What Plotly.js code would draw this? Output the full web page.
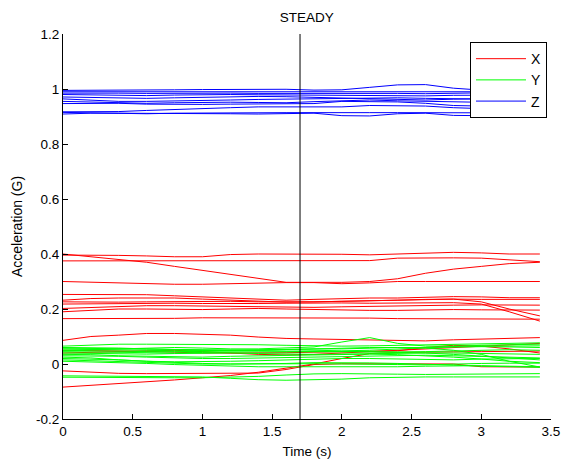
<!DOCTYPE html>
<html>
<head>
<meta charset="utf-8">
<script src="https://cdn.plot.ly/plotly-3.0.1.min.js"></script>
<style>html,body{margin:0;padding:0;background:#fff;}#chart{width:562px;height:461px;}</style>
</head>
<body>
<div id="chart"></div>
<script>
const time = [0,0.2,0.4,0.6,0.8,1.0,1.2,1.4,1.6,1.8,2.0,2.2,2.4,2.6,2.8,3.0,3.2,3.42];

const accX = [
  [0.40,0.39,0.38,0.37,0.355,0.34,0.325,0.31,0.297,0.297,0.297,0.30,0.31,0.33,0.345,0.355,0.365,0.37],
  [0.396,0.396,0.395,0.393,0.39,0.39,0.398,0.40,0.40,0.40,0.399,0.397,0.40,0.405,0.406,0.404,0.40,0.40],
  [0.375,0.375,0.375,0.375,0.375,0.375,0.376,0.376,0.375,0.375,0.375,0.376,0.385,0.386,0.386,0.385,0.378,0.372],
  [0.30,0.297,0.295,0.293,0.29,0.29,0.292,0.295,0.296,0.296,0.292,0.295,0.30,0.30,0.30,0.30,0.30,0.30],
  [0.253,0.253,0.253,0.252,0.248,0.244,0.24,0.235,0.232,0.235,0.238,0.24,0.24,0.242,0.245,0.244,0.241,0.241],
  [0.232,0.238,0.24,0.24,0.24,0.236,0.232,0.228,0.225,0.226,0.228,0.23,0.232,0.236,0.236,0.235,0.235,0.235],
  [0.226,0.225,0.225,0.226,0.227,0.228,0.228,0.226,0.225,0.226,0.228,0.229,0.232,0.235,0.236,0.226,0.2,0.175],
  [0.218,0.219,0.22,0.22,0.221,0.22,0.219,0.22,0.221,0.222,0.222,0.221,0.222,0.224,0.223,0.218,0.19,0.156],
  [0.202,0.206,0.21,0.212,0.212,0.211,0.21,0.208,0.206,0.206,0.208,0.21,0.212,0.214,0.214,0.215,0.214,0.214],
  [0.19,0.195,0.2,0.2,0.199,0.198,0.2,0.202,0.2,0.198,0.196,0.195,0.195,0.197,0.198,0.197,0.196,0.196],
  [0.165,0.165,0.164,0.164,0.166,0.168,0.168,0.168,0.168,0.168,0.168,0.167,0.165,0.165,0.164,0.164,0.163,0.163],
  [0.086,0.10,0.105,0.111,0.111,0.108,0.105,0.098,0.093,0.091,0.089,0.088,0.086,0.084,0.088,0.09,0.093,0.096],
  [-0.084,-0.078,-0.072,-0.066,-0.058,-0.05,-0.042,-0.03,-0.015,0.0,0.02,0.038,0.042,0.044,0.044,0.045,0.045,0.047],
  [-0.025,-0.03,-0.034,-0.035,-0.035,-0.035,-0.035,-0.033,-0.02,-0.002,0.001,0.001,0.001,0.0,0.0,-0.01,-0.011,-0.011],
  [0.05,0.049,0.048,0.046,0.043,0.04,0.04,0.04,0.041,0.043,0.045,0.047,0.048,0.06,0.068,0.065,0.055,0.04],
  [0.04,0.042,0.045,0.047,0.05,0.045,0.04,0.035,0.033,0.035,0.04,0.045,0.05,0.055,0.06,0.065,0.07,0.075]
];

const accY = [
  [0.065,0.068,0.072,0.072,0.072,0.072,0.072,0.07,0.068,0.066,0.065,0.066,0.068,0.07,0.072,0.074,0.075,0.077],
  [0.05,0.052,0.055,0.058,0.06,0.058,0.055,0.055,0.058,0.062,0.08,0.096,0.075,0.065,0.065,0.064,0.065,0.066],
  [0.06,0.06,0.058,0.055,0.052,0.05,0.05,0.052,0.055,0.055,0.055,0.058,0.06,0.06,0.062,0.063,0.062,0.06],
  [0.055,0.054,0.052,0.05,0.048,0.048,0.05,0.05,0.052,0.05,0.048,0.05,0.055,0.06,0.065,0.068,0.07,0.072],
  [0.05,0.048,0.045,0.045,0.045,0.046,0.048,0.048,0.046,0.045,0.045,0.045,0.044,0.045,0.048,0.05,0.052,0.05],
  [0.045,0.044,0.042,0.04,0.04,0.042,0.044,0.044,0.044,0.045,0.045,0.044,0.042,0.04,0.035,0.028,0.022,0.015],
  [0.04,0.038,0.036,0.036,0.038,0.04,0.04,0.038,0.036,0.035,0.036,0.038,0.04,0.04,0.04,0.038,0.036,0.035],
  [0.035,0.034,0.03,0.028,0.025,0.025,0.028,0.03,0.032,0.033,0.035,0.036,0.034,0.03,0.025,0.018,0.01,0.005],
  [0.03,0.03,0.028,0.025,0.022,0.02,0.02,0.022,0.024,0.025,0.026,0.028,0.03,0.032,0.03,0.028,0.025,0.022],
  [0.025,0.022,0.015,0.01,0.008,0.008,0.01,0.012,0.015,0.018,0.02,0.02,0.018,0.015,0.015,0.018,0.02,0.02],
  [0.02,0.018,0.015,0.01,0.005,0.002,0.0,0.0,0.002,0.005,0.005,0.004,0.002,0.0,-0.004,-0.008,-0.01,-0.012],
  [0.015,0.012,0.008,0.004,0.001,0.0,0.0,0.001,0.001,0.001,0.0,0.0,-0.002,-0.003,0.0,0.002,0.003,0.003],
  [0.01,0.008,0.005,0.002,-0.002,-0.005,-0.008,-0.01,-0.01,-0.01,-0.012,-0.012,-0.01,-0.008,-0.006,-0.006,-0.008,-0.01],
  [-0.043,-0.044,-0.045,-0.046,-0.047,-0.047,-0.052,-0.057,-0.059,-0.058,-0.055,-0.05,-0.048,-0.047,-0.047,-0.047,-0.047,-0.047],
  [-0.048,-0.049,-0.05,-0.05,-0.05,-0.05,-0.048,-0.045,-0.04,-0.036,-0.035,-0.035,-0.037,-0.038,-0.037,-0.036,-0.035,-0.035],
  [0.058,0.056,0.055,0.054,0.053,0.052,0.05,0.05,0.052,0.055,0.058,0.06,0.06,0.058,0.05,0.035,0.01,-0.011]
];

const accZ = [
  [0.995,0.995,0.996,0.997,0.997,0.998,0.999,1.0,0.999,0.996,0.997,1.006,1.015,1.016,1.003,0.996,0.994,0.994],
  [0.99,0.99,0.99,0.991,0.99,0.99,0.99,0.989,0.99,0.99,0.99,0.99,0.991,0.99,0.99,0.99,0.99,0.99],
  [0.985,0.986,0.985,0.984,0.985,0.986,0.985,0.984,0.984,0.985,0.986,0.985,0.984,0.983,0.985,0.986,0.985,0.985],
  [0.98,0.978,0.976,0.976,0.978,0.98,0.98,0.979,0.978,0.978,0.976,0.975,0.974,0.975,0.977,0.978,0.978,0.978],
  [0.971,0.97,0.968,0.966,0.968,0.97,0.972,0.973,0.972,0.97,0.968,0.966,0.962,0.96,0.963,0.965,0.966,0.966],
  [0.964,0.96,0.955,0.955,0.956,0.958,0.96,0.962,0.963,0.965,0.966,0.968,0.968,0.966,0.964,0.963,0.962,0.962],
  [0.955,0.953,0.95,0.948,0.95,0.952,0.952,0.951,0.95,0.954,0.958,0.96,0.957,0.955,0.952,0.95,0.95,0.95],
  [0.947,0.948,0.948,0.945,0.944,0.944,0.945,0.946,0.946,0.947,0.955,0.955,0.953,0.948,0.94,0.938,0.94,0.942],
  [0.917,0.917,0.918,0.922,0.926,0.928,0.932,0.935,0.935,0.933,0.935,0.94,0.94,0.938,0.932,0.928,0.925,0.922],
  [0.909,0.912,0.912,0.912,0.912,0.912,0.91,0.909,0.91,0.912,0.903,0.902,0.91,0.912,0.904,0.903,0.908,0.91],
  [0.915,0.913,0.91,0.91,0.912,0.913,0.914,0.914,0.914,0.914,0.915,0.914,0.914,0.914,0.913,0.912,0.912,0.913]
];

const seriesNames = ["X","Y","Z"];
const seriesColors = ["#ff0000","#00ff00","#0000ff"];
const markerTime = 1.7;
const xTickVals = [0,0.5,1,1.5,2,2.5,3,3.5];
const xTickText = ["0","0.5","1","1.5","2","2.5","3","3.5"];
const yTickVals = [-0.2,0,0.2,0.4,0.6,0.8,1,1.2];
const yTickText = ["-0.2","0","0.2","0.4","0.6","0.8","1","1.2"];

const traces = [];
[accX, accY, accZ].forEach((group, gi) => {
  group.forEach((vals, i) => {
    traces.push({
      type: "scatter", mode: "lines", x: time, y: vals,
      name: seriesNames[gi], legendgroup: seriesNames[gi], showlegend: i === 0,
      line: {color: seriesColors[gi], width: 1}, hoverinfo: "skip"
    });
  });
});

const font = "Liberation Sans, Arial, Helvetica, sans-serif";
const layout = {
  width: 562, height: 461,
  margin: {l: 63, r: 11, t: 34, b: 42, pad: 0},
  paper_bgcolor: "#fff", plot_bgcolor: "#fff",
  font: {family: font, size: 13.5, color: "#000"},
  title: {text: "STEADY", x: 0.546, xanchor: "center", y: 0.962, yanchor: "middle", font: {family: font, size: 13.5, color: "#000"}},
  xaxis: {
    range: [0, 3.5], tickvals: xTickVals, ticktext: xTickText, tickfont: {size: 13.5},
    ticks: "inside", ticklen: 5, tickcolor: "#000", showline: true, linecolor: "#000", linewidth: 1,
    showgrid: false, zeroline: false, mirror: false,
    title: {text: "Time (s)", standoff: 8, font: {family: font, size: 13.5}}
  },
  yaxis: {
    range: [-0.2, 1.2], tickvals: yTickVals, ticktext: yTickText, tickfont: {size: 13.5},
    ticks: "inside", ticklen: 5, tickcolor: "#000", showline: true, linecolor: "#000", linewidth: 1,
    showgrid: false, zeroline: false, mirror: false,
    title: {text: "Acceleration (G)", standoff: 10, font: {family: font, size: 14}}
  },
  legend: {
    x: 0.834, y: 0.979, xanchor: "left", yanchor: "top",
    bgcolor: "#fff", bordercolor: "#000", borderwidth: 1, tracegroupgap: 0,
    font: {family: font, size: 14, color: "#000"}, itemwidth: 50
  },
  shapes: [{type: "line", xref: "x", yref: "paper", x0: markerTime, x1: markerTime, y0: 0, y1: 1, line: {color: "#000", width: 1}}]
};

Plotly.newPlot("chart", traces, layout, {displayModeBar: false, staticPlot: true});
</script>
</body>
</html>
